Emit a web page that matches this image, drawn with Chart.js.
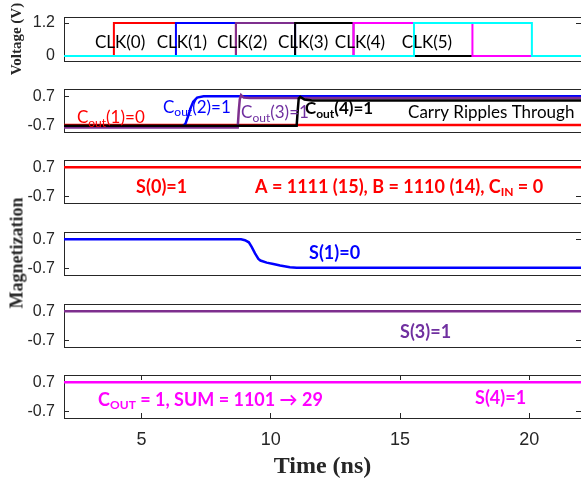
<!DOCTYPE html>
<html>
<head>
<meta charset="utf-8">
<script src="https://cdn.jsdelivr.net/npm/chart.js@4.4.1/dist/chart.umd.min.js"></script>
<style>
  html, body { margin: 0; padding: 0; background: #fff; }
  body { width: 581px; height: 483px; position: relative; overflow: hidden; }
  canvas { position: absolute; left: 0; }
  .ytitle { position: absolute; white-space: nowrap; font: bold 18px "Liberation Serif", serif; color: #262626;
            transform: translate(-50%, -50%) rotate(-90deg); }
</style>
</head>
<body>
<canvas id="p1" width="590" height="81" style="top:0px"></canvas>
<canvas id="p2" width="590" height="63" style="top:79px"></canvas>
<canvas id="p3" width="590" height="63" style="top:150px"></canvas>
<canvas id="p4" width="590" height="63" style="top:222px"></canvas>
<canvas id="p5" width="590" height="63" style="top:294px"></canvas>
<canvas id="p6" width="590" height="118" style="top:365px"></canvas>
<div class="ytitle" style="left:17px; top:253px">Magnetization</div>
<script>
const AX = "#262626";
const FONT = 'Lato, "Open Sans", "DejaVu Sans", sans-serif';

// time axis (ns)
const timeMin = 2, timeMax = 22;
const timeTicks = [5, 10, 15, 20];
const timeTickLabels = ["5", "10", "15", "20"];

// clocks
const clkNames = ["CLK(0)", "CLK(1)", "CLK(2)", "CLK(3)", "CLK(4)", "CLK(5)"];
const clkColors = ["#FF0000", "#0000FF", "#7E2F8E", "#000000", "#FF00FF", "#00FFFF"];
const clkRise = [3.93, 6.33, 8.65, 10.94, 13.2, 15.54];
const clkFall = [8.65, 10.94, 13.2, 15.54, 17.8, 20.1];
const clkHigh = 1.2, clkLow = 0;
const voltTicks = [0, 1.2];
const voltTickLabels = ["0", "1.2"];

// magnetization
const magTicks = [-0.7, 0.7];
const magTickLabels = ["-0.7", "0.7"];

const cout1Time = [2, 22];
const cout1 = [-0.67, -0.67];
const cout2Time = [2, 6.6, 6.7, 6.8, 6.9, 7.0, 7.15, 7.4, 22];
const cout2 = [-0.72, -0.72, -0.6, -0.25, 0.15, 0.45, 0.64, 0.7, 0.7];
const cout3Time = [2, 8.72, 8.76, 8.8, 8.85, 8.95, 9.2, 22];
const cout3 = [-0.78, -0.78, 0.0, 0.55, 0.76, 0.64, 0.62, 0.62];
const cout4Time = [2, 11.0, 11.04, 11.08, 11.14, 11.3, 11.6, 22];
const cout4 = [-0.7, -0.7, 0.0, 0.6, 0.68, 0.55, 0.5, 0.5];

const s0Time = [2, 22];
const s0 = [0.7, 0.7];
const s1Time = [2, 8.85, 9.0, 9.15, 9.26, 9.39, 9.52, 9.6, 9.84, 10.1, 10.36, 10.74, 11.0, 22];
const s1 = [0.7, 0.7, 0.66, 0.56, 0.34, 0.03, -0.23, -0.31, -0.41, -0.48, -0.55, -0.63, -0.66, -0.66];
const s3Time = [2, 22];
const s3 = [0.7, 0.7];
const s4Time = [2, 22];
const s4 = [0.7, 0.7];

const pts = (t, v) => t.map((x, i) => ({ x: x, y: v[i] }));

function clkPoints(i) {
  return [
    { x: timeMin, y: clkLow }, { x: clkRise[i], y: clkLow }, { x: clkRise[i], y: clkHigh },
    { x: clkFall[i], y: clkHigh }, { x: clkFall[i], y: clkLow }, { x: timeMax, y: clkLow },
  ];
}

function line(data, color, width) {
  return { data: data, borderColor: color, borderWidth: width, xAxisID: "x", yAxisID: "y", fill: false };
}

// text written inside the panels, placed in data coordinates
const notes = {
  p1: clkNames.map((n, i) => ({ x: [4.17, 6.56, 8.89, 11.25, 13.45, 16.04][i], y: 0.51, parts: [n], color: "#000", size: 17, align: "center" })),
  p2: [
    { x: 2.5, y: -0.33, parts: ["C", { t: "out", sub: true }, "(1)=0"], color: "#FF0000", size: 17 },
    { x: 5.83, y: 0.19, parts: ["C", { t: "out", sub: true }, "(2)=1"], color: "#0000FF", size: 17 },
    { x: 8.85, y: -0.09, parts: ["C", { t: "out", sub: true }, "(3)=1"], color: "#7030A0", size: 17 },
    { x: 11.32, y: 0.1, parts: ["C", { t: "out", sub: true }, "(4)=1"], color: "#000", size: 17, bold: true },
    { x: 15.31, y: -0.07, parts: ["Carry Ripples Through"], color: "#000", size: 17 },
  ],
  p3: [
    { x: 4.79, y: -0.24, parts: ["S(0)=1"], color: "#FF0000", size: 18, bold: true },
    { x: 9.39, y: -0.24, parts: ["A = 1111 (15), B = 1110 (14), C", { t: "IN", sub: true }, " = 0"], color: "#FF0000", size: 18, bold: true },
  ],
  p4: [
    { x: 11.48, y: 0.05, parts: ["S(1)=0"], color: "#0000FF", size: 18, bold: true },
  ],
  p5: [
    { x: 15.0, y: -0.31, parts: ["S(3)=1"], color: "#7030A0", size: 18, bold: true },
  ],
  p6: [
    { x: 3.32, y: -0.14, parts: ["C", { t: "OUT", sub: true }, " = 1, SUM = 1101 \u2192 29"], color: "#FF00FF", size: 18, bold: true },
    { x: 17.9, y: -0.05, parts: ["S(4)=1"], color: "#FF00FF", size: 18, bold: true },
  ],
};

const notesPlugin = {
  id: "notes",
  afterDatasetsDraw(chart) {
    const items = notes[chart.canvas.id] || [];
    const ctx = chart.ctx;
    const xs = chart.scales.x, ys = chart.scales.y;
    items.forEach(it => {
      const parts = it.parts.map(p => (typeof p === "string" ? { t: p } : p));
      const w = it.bold ? "bold " : "";
      const fontFor = p => w + (p.sub ? Math.round(it.size * 0.68) : it.size) + "px " + FONT;
      ctx.save();
      ctx.fillStyle = it.color;
      ctx.textBaseline = "middle";
      ctx.textAlign = "left";
      let total = 0;
      parts.forEach(p => { ctx.font = fontFor(p); total += ctx.measureText(p.t).width; });
      let px = xs.getPixelForValue(it.x);
      const py = ys.getPixelForValue(it.y);
      if (it.align === "center") px -= total / 2;
      parts.forEach(p => {
        ctx.font = fontFor(p);
        ctx.fillText(p.t, px, py + (p.sub ? it.size * 0.28 : 0));
        px += ctx.measureText(p.t).width;
      });
      ctx.restore();
    });
  },
};
Chart.register(notesPlugin);

// fixed axis boxes so every panel lines up
function fixBox(size, horizontal) {
  return s => {
    if (horizontal) s.height = size; else s.width = size;
    s.paddingTop = 0; s.paddingBottom = 0; s.paddingLeft = 0; s.paddingRight = 0;
  };
}

function makePanel(id, cfg) {
  const tickFont = { family: '"Liberation Sans", Arial, sans-serif', size: 16 };
  const timeFont = { family: '"Liberation Sans", Arial, sans-serif', size: 18 };
  new Chart(document.getElementById(id), {
    type: "line",
    data: { datasets: cfg.datasets },
    options: {
      responsive: false,
      animation: false,
      events: [],
      layout: { padding: 0, autoPadding: false },
      elements: { point: { radius: 0 }, line: { tension: 0 } },
      plugins: { legend: { display: false }, tooltip: { enabled: false } },
      scales: {
        x: {
          type: "linear", axis: "x", position: "bottom", min: timeMin, max: timeMax,
          border: { color: AX, width: 1 },
          grid: { drawOnChartArea: false, drawTicks: !!cfg.timeAxis, tickLength: -5, color: AX },
          ticks: { display: !!cfg.timeAxis, padding: 16, color: AX, font: timeFont, maxRotation: 0, autoSkip: false,
                   callback: (v, i) => timeTickLabels[i] },
          afterBuildTicks: s => { s.ticks = timeTicks.map(v => ({ value: v })); },
          title: cfg.timeAxis
            ? { display: true, text: "Time (ns)", color: AX, padding: { top: 0, bottom: 2 },
                font: { family: '"Liberation Serif", serif', size: 24, weight: "bold" } }
            : { display: false },
          afterFit: fixBox(cfg.bottom, true),
        },
        xTop: {
          type: "linear", axis: "x", position: "top", min: timeMin, max: timeMax,
          border: { color: AX, width: 1 },
          grid: { drawOnChartArea: false, drawTicks: !!cfg.timeAxis, tickLength: -5, color: AX },
          ticks: { display: false },
          afterBuildTicks: s => { s.ticks = timeTicks.map(v => ({ value: v })); },
          afterFit: fixBox(cfg.top, true),
        },
        y: {
          type: "linear", axis: "y", position: "left", min: cfg.min, max: cfg.max,
          border: { color: AX, width: 1 },
          grid: { drawOnChartArea: false, tickLength: -5, color: AX },
          ticks: { padding: 14, color: AX, font: tickFont, callback: (v, i) => cfg.tickLabels[i] },
          afterBuildTicks: s => { s.ticks = cfg.ticks.map(v => ({ value: v })); },
          title: cfg.yTitle
            ? { display: true, text: cfg.yTitle, color: AX, padding: { top: 8, bottom: 0 },
                font: { family: '"Liberation Serif", serif', size: 15, weight: "bold" } }
            : { display: false },
          afterFit: fixBox(64, false),
        },
        yR: {
          type: "linear", axis: "y", position: "right", min: cfg.min, max: cfg.max,
          border: { color: AX, width: 1 },
          grid: { drawOnChartArea: false, tickLength: -5, color: AX },
          ticks: { display: false },
          afterBuildTicks: s => { s.ticks = cfg.ticks.map(v => ({ value: v })); },
          afterFit: fixBox(9, false),
        },
      },
    },
  });
}

const magPanel = { min: -1.0, max: 1.05, ticks: magTicks, tickLabels: magTickLabels, top: 10, bottom: 10 };

// later clocks are drawn on top, Chart.js draws dataset 0 last
makePanel("p1", {
  min: -0.18, max: 1.42, ticks: voltTicks, tickLabels: voltTickLabels, top: 17, bottom: 20, yTitle: "Voltage (V)",
  datasets: [5, 4, 3, 2, 1, 0].map(i => line(clkPoints(i), clkColors[i], 2)),
});
makePanel("p2", Object.assign({}, magPanel, {
  datasets: [
    line(pts(cout4Time, cout4), "#000000", 2.5),
    line(pts(cout3Time, cout3), "#7E2F8E", 2.5),
    line(pts(cout2Time, cout2), "#0000FF", 2.5),
    line(pts(cout1Time, cout1), "#FF0000", 2.5),
  ],
}));
makePanel("p3", Object.assign({}, magPanel, { datasets: [line(pts(s0Time, s0), "#FF0000", 2.5)] }));
makePanel("p4", Object.assign({}, magPanel, { datasets: [line(pts(s1Time, s1), "#0000FF", 2.5)] }));
makePanel("p5", Object.assign({}, magPanel, { datasets: [line(pts(s3Time, s3), "#7E2F8E", 2.5)] }));
makePanel("p6", Object.assign({}, magPanel, { bottom: 65, timeAxis: true, datasets: [line(pts(s4Time, s4), "#FF00FF", 2.5)] }));
</script>
</body>
</html>
